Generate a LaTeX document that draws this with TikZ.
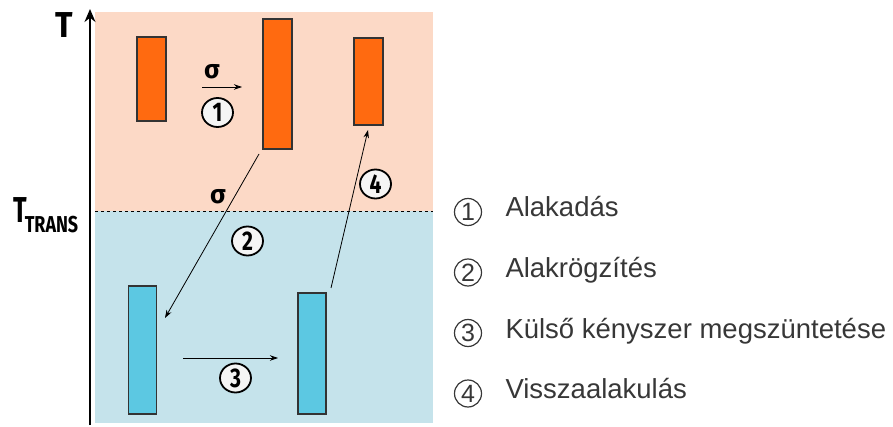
\documentclass[tikz,border=0pt]{standalone}
\usepackage{fontspec}
\setmainfont{Liberation Sans}
\newfontfamily\labelfont{Fira Sans}
\usetikzlibrary{arrows,arrows.meta,positioning,shapes.geometric}

\definecolor{warmbg}{RGB}{252,217,198}
\definecolor{coldbg}{RGB}{197,227,235}
\definecolor{hotbar}{RGB}{255,106,16}
\definecolor{coldbar}{RGB}{92,200,226}
\definecolor{legendtext}{RGB}{55,55,55}

\begin{document}
\begin{tikzpicture}[x=1pt,y=-1pt,>={Stealth[length=8pt,width=5.5pt]},line width=0.8pt,node distance=60.5pt]
  \tikzstyle{hot}=[draw=black!80,fill=hotbar,line width=1.2pt,minimum width=29pt,inner sep=0pt]
  \tikzstyle{cold}=[draw=black!80,fill=coldbar,line width=1.2pt,minimum width=28pt,inner sep=0pt]
  \tikzstyle{stepnum}=[ellipse,draw,line width=1.8pt,minimum width=31pt,minimum height=29pt,inner sep=0pt,fill=white!92!gray,font=\labelfont\bfseries\fontsize{27}{27}\selectfont]
  \tikzstyle{sigma}=[inner sep=0pt,font=\labelfont\bfseries\fontsize{26}{26}\selectfont]
  \tikzstyle{legnum}=[circle,draw=legendtext,line width=1.2pt,minimum size=27pt,inner sep=0pt,text=legendtext,font=\fontsize{25}{25}\selectfont]
  \tikzstyle{legtext}=[text=legendtext,inner sep=0pt,text height=16pt,text depth=6pt,font=\fontsize{27.5}{27.5}\selectfont]

  \useasboundingbox (0,0) rectangle (893,427);

  % the two temperature zones
  \fill[warmbg] (95,12) rectangle (433,211);
  \fill[coldbg] (95,211) rectangle (433,423);
  \draw[dashed,line width=0.6pt] (95,211) -- (433,211);
  \draw[-{Stealth[length=13pt,width=11pt]},line width=1.8pt] (90,425) -- (90,9);

  \node[inner sep=0pt,font=\labelfont\bfseries\fontsize{36}{36}\selectfont] (tlab) at (64,25) {\scalebox{0.9}[1]{T}};
  \node[inner sep=0pt,font=\labelfont\bfseries\fontsize{36}{36}\selectfont] (ttrans) at (20,210) {\scalebox{0.7}[1]{T}};
  \node[inner sep=0pt,font=\labelfont\bfseries\fontsize{23}{23}\selectfont] (ttranssub) at (51.5,225) {\scalebox{0.78}[1]{TRANS}};

  % samples
  \node[hot,minimum height=84pt]  (h1) at (151.5,79) {};
  \node[hot,minimum height=130pt] (h2) at (277.5,84) {};
  \node[hot,minimum height=87pt]  (h3) at (368.5,81.5) {};
  \node[cold,minimum height=128pt] (c1) at (142.5,350) {};
  \node[cold,minimum height=121pt] (c2) at (312,353.5) {};

  % arrow ends
  \coordinate (a1s) at (202,87);  \coordinate (a1e) at (242,87);
  \coordinate (a2s) at (259,154); \coordinate (a2e) at (165,318);
  \coordinate (a3s) at (183,358); \coordinate (a3e) at (278,358);
  \coordinate (a4s) at (331,288); \coordinate (a4e) at (368,130);

  \draw[->] (a1s) -- (a1e);
  \draw[->] (a2s) -- (a2e);
  \draw[->] (a3s) -- (a3e);
  \draw[->] (a4s) -- (a4e);

  \node[sigma] (sig1) at (212,72) {σ};
  \node[sigma] (sig2) at (218,197) {σ};

  \node[stepnum] (n1) at (217.5,112.5) {\scalebox{0.78}[1]{1}};
  \node[stepnum] (n2) at (247.5,241)   {\scalebox{0.78}[1]{2}};
  \node[stepnum] (n3) at (235.5,378)   {\scalebox{0.78}[1]{3}};
  \node[stepnum] (n4) at (375.5,184)   {\scalebox{0.78}[1]{4}};

  % legend
  \node[legnum] (l1) at (468,212) {1};
  \node[legnum] (l2) [below of=l1] {2};
  \node[legnum] (l3) [below of=l2] {3};
  \node[legnum] (l4) [below of=l3] {4};
  \node[legtext,right=23pt of l1,anchor=west] (t1) {Alakadás};
  \node[legtext,right=23pt of l2,anchor=west] (t2) {Alakrögzítés};
  \node[legtext,right=23pt of l3,anchor=west] (t3) {Külső kényszer megszüntetése};
  \node[legtext,right=23pt of l4,anchor=west] (t4) {Visszaalakulás};
\end{tikzpicture}
\end{document}
